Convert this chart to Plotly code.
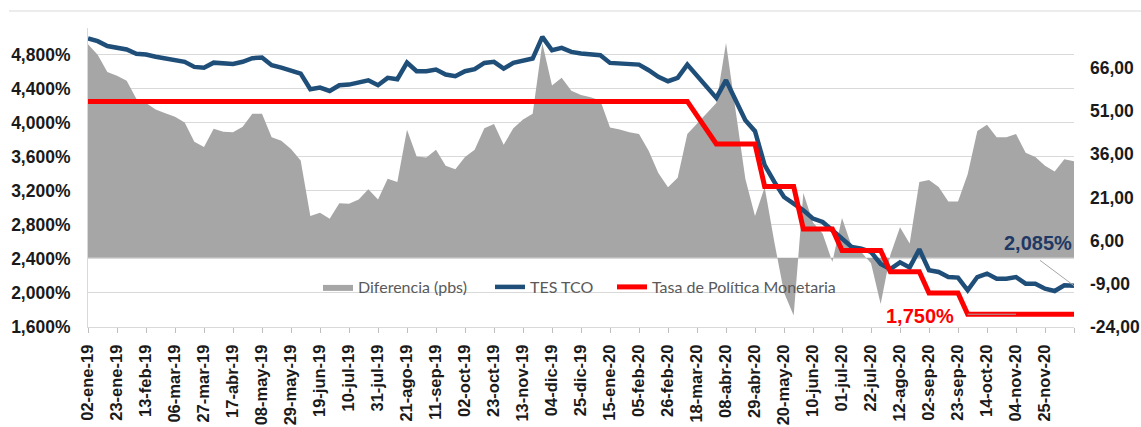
import plotly.graph_objects as go
import pandas as pd

# Weekly observation dates (Wednesdays)
dates = pd.date_range("2019-01-02", periods=103, freq="7D")

# TES TCO yield (%)
tes_tco = [
    4.99, 4.957, 4.90, 4.88, 4.86, 4.81, 4.80, 4.775, 4.755, 4.74,
    4.715, 4.655, 4.645, 4.705, 4.695, 4.69, 4.715, 4.757, 4.765, 4.675,
    4.647, 4.608, 4.577, 4.393, 4.412, 4.373, 4.44, 4.447, 4.467, 4.498,
    4.44, 4.526, 4.51, 4.706, 4.604, 4.604, 4.624, 4.565, 4.545, 4.604,
    4.628, 4.702, 4.714, 4.635, 4.702, 4.733, 4.753, 5.008, 4.851, 4.878,
    4.831, 4.812, 4.804, 4.792, 4.702, 4.694, 4.682, 4.682, 4.616, 4.538,
    4.487, 4.526, 4.682, None, None, 4.291, 4.499, 4.264, 4.029, 3.90,
    3.50, 3.304, 3.127, 3.049, 2.971, 2.873, 2.834, 2.736, 2.638, 2.54,
    2.52, 2.481, 2.34, 2.28, 2.36, 2.30, 2.513, 2.266, 2.246, 2.187,
    2.18, 2.031, 2.187, 2.227, 2.168, 2.168, 2.187, 2.109, 2.109, 2.05,
    2.023, 2.09, 2.085,
]

# Tasa de Política Monetaria (%)
tasa_politica = [
    4.25, 4.25, 4.25, 4.25, 4.25, 4.25, 4.25, 4.25, 4.25, 4.25,
    4.25, 4.25, 4.25, 4.25, 4.25, 4.25, 4.25, 4.25, 4.25, 4.25,
    4.25, 4.25, 4.25, 4.25, 4.25, 4.25, 4.25, 4.25, 4.25, 4.25,
    4.25, 4.25, 4.25, 4.25, 4.25, 4.25, 4.25, 4.25, 4.25, 4.25,
    4.25, 4.25, 4.25, 4.25, 4.25, 4.25, 4.25, 4.25, 4.25, 4.25,
    4.25, 4.25, 4.25, 4.25, 4.25, 4.25, 4.25, 4.25, 4.25, 4.25,
    4.25, 4.25, 4.25, None, None, 3.75, 3.75, 3.75, 3.75, 3.75,
    3.25, 3.25, 3.25, 3.25, 2.75, 2.75, 2.75, 2.75, 2.50, 2.50,
    2.50, 2.50, 2.50, 2.25, 2.25, 2.25, 2.25, 2.00, 2.00, 2.00,
    2.00, 1.75, 1.75, 1.75, 1.75, 1.75, 1.75, 1.75, 1.75, 1.75,
    1.75, 1.75, 1.75,
]

# Diferencia (pbs)
diferencia = [
    74.2, 70.5, 64.5, 63.2, 61.5, 55.2, 53.8, 51.5, 50.2, 49.0,
    47.0, 40.3, 38.5, 44.8, 43.8, 43.6, 45.5, 50.0, 50.0, 41.9,
    40.7, 37.8, 33.8, 14.5, 15.7, 13.6, 19.0, 18.8, 20.3, 23.8,
    20.3, 27.5, 26.3, 44.5, 35.2, 34.8, 37.5, 32.0, 30.8, 35.0,
    37.5, 45.0, 46.5, 39.3, 45.0, 48.0, 50.0, 74.5, 59.8, 62.5,
    58.0, 56.5, 55.8, 54.6, 45.3, 44.6, 43.6, 43.0, 37.2, 29.5,
    24.5, 27.8, 43.0, None, None, 53.8, 74.6, 51.0, 27.5, 14.5,
    24.5, 5.5, -12.0, -20.0, 22.5, 12.3, 8.4, -1.4, 13.8, 4.0,
    2.0, -1.9, -16.0, 1.0, 10.6, 5.0, 26.3, 27.0, 24.6, 19.6,
    19.6, 29.0, 44.0, 46.2, 41.9, 41.9, 43.0, 36.5, 35.0, 32.0,
    30.0, 34.2, 33.5,
]

x_tick_labels = [
    "02-ene-19", "23-ene-19", "13-feb-19", "06-mar-19", "27-mar-19", "17-abr-19",
    "08-may-19", "29-may-19", "19-jun-19", "10-jul-19", "31-jul-19", "21-ago-19",
    "11-sep-19", "02-oct-19", "23-oct-19", "13-nov-19", "04-dic-19", "25-dic-19",
    "15-ene-20", "05-feb-20", "26-feb-20", "18-mar-20", "08-abr-20", "29-abr-20",
    "20-may-20", "10-jun-20", "01-jul-20", "22-jul-20", "12-ago-20", "02-sep-20",
    "23-sep-20", "14-oct-20", "04-nov-20", "25-nov-20", "",
]
right_tick_vals = [-24, -9, 6, 21, 36, 51, 66]
right_tick_text = ["-24,00", "-9,00", "6,00", "21,00", "36,00", "51,00", "66,00"]

BLUE = "#1F4E79"
RED = "#FF0000"
GRAY = "#A6A6A6"
GRID = "#D9D9D9"
TICKFONT = dict(family="Liberation Sans", size=17.5, color="#1a1a1a", weight="bold")
XTICKFONT = dict(family="Liberation Sans", size=16.5, color="#1a1a1a", weight="bold")
LEGFONT = dict(family="Lato", size=16, color="#595959")

fig = go.Figure()
fig.add_trace(go.Scatter(
    x=dates, y=diferencia, name="Diferencia (pbs)", yaxis="y",
    mode="lines", line=dict(width=0, color=GRAY), fill="tozeroy",
    fillcolor=GRAY, connectgaps=True, legend="legend", showlegend=True,
))
fig.add_trace(go.Scatter(
    x=dates, y=tes_tco, name="TES TCO", yaxis="y2",
    mode="lines", line=dict(width=4.5, color=BLUE), connectgaps=True,
    legend="legend2", showlegend=True,
))
fig.add_trace(go.Scatter(
    x=dates, y=tasa_politica, name="Tasa de Política Monetaria", yaxis="y2",
    mode="lines", line=dict(width=5, color=RED), connectgaps=True,
    legend="legend3", showlegend=True,
))

L, R, T, B = 88, 67, 28, 100
W, H = 1141, 427
pw, ph = W - L - R, H - T - B


def px_x(p):
    return (p - L) / pw


def px_y(p):
    return (H - B - p) / ph


leg_common = dict(orientation="h", yanchor="middle", xanchor="left",
                  bgcolor="rgba(0,0,0,0)", font=LEGFONT, y=px_y(287),
                  visible=True)

fig.update_layout(
    template="none",
    showlegend=True,
    width=W, height=H,
    margin=dict(l=L, r=R, t=T, b=B, pad=0),
    paper_bgcolor="white", plot_bgcolor="white",
    separators=",.",
    xaxis=dict(
        type="date", range=[dates[0], dates[-1]],
        tickmode="array", tickvals=list(dates[::3]), ticktext=x_tick_labels,
        tickangle=-90, ticks="outside", ticklen=5, tickcolor="#BFBFBF",
        showline=True, linecolor=GRID, linewidth=1, showgrid=False,
        zeroline=False, tickfont=XTICKFONT, automargin=False,
        ticklabelstandoff=5,
    ),
    yaxis=dict(
        side="right", range=[-24, 79.8],
        tickmode="array", tickvals=right_tick_vals, ticktext=right_tick_text,
        showgrid=False, zeroline=False, showline=False, ticks="",
        ticklabelstandoff=15, tickfont=TICKFONT, automargin=False,
    ),
    yaxis2=dict(
        overlaying="y", side="left", range=[1.6, 5.112],
        tickmode="linear", tick0=1.6, dtick=0.4, tickformat=".3f",
        ticksuffix="%", showgrid=True, gridcolor=GRID, gridwidth=1,
        showline=True, linecolor=GRID, linewidth=1, zeroline=False, ticks="",
        ticklabelstandoff=13, tickfont=TICKFONT, automargin=False,
    ),
    legend=dict(x=px_x(318), **leg_common),
    legend2=dict(x=px_x(490), **leg_common),
    legend3=dict(x=px_x(612), **leg_common),
    shapes=[
        dict(type="line", xref="paper", yref="paper",
             x0=px_x(9), x1=px_x(W), y0=px_y(11), y1=px_y(11),
             line=dict(color=GRID, width=1)),
        dict(type="line", xref="paper", yref="y2",
             x0=px_x(1040), x1=1.0, y0=2.383, y1=tes_tco[-1],
             line=dict(color=GRAY, width=1), layer="above"),
        dict(type="line", xref="x", yref="y2",
             x0=dates[91], x1=dates[96], y0=tasa_politica[-1], y1=tasa_politica[-1],
             line=dict(color=GRAY, width=1), layer="above"),
    ],
    annotations=[
        dict(text="2,085%", xref="paper", yref="y2", x=1.0, y=2.583,
             xanchor="right", yanchor="middle", showarrow=False,
             font=dict(family="Liberation Sans", size=20, color="#1F3864", weight="bold")),
        dict(text="1,750%", xref="paper", yref="y2", x=px_x(956), y=1.729,
             xanchor="right", yanchor="middle", showarrow=False,
             font=dict(family="Liberation Sans", size=20, color=RED, weight="bold")),
    ],
)

fig.write_html("out.html", post_script="document.body.style.margin='0px';",
               config={"displayModeBar": False})
